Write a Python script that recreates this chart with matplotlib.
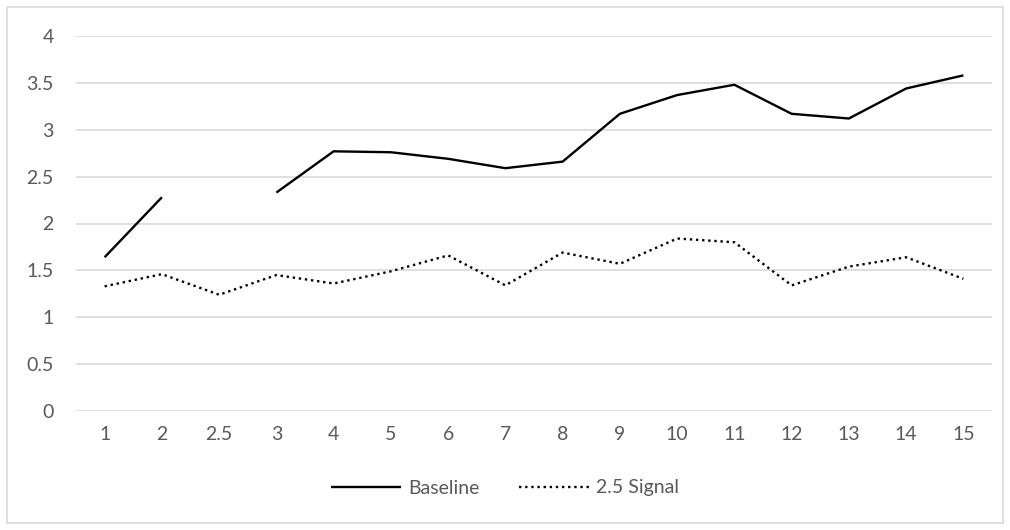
import matplotlib.pyplot as plt
import matplotlib.patches as mpatches
import numpy as np

categories = ["1", "2", "2.5", "3", "4", "5", "6", "7", "8", "9", "10", "11", "12", "13", "14", "15"]
baseline = [1.64, 2.28, np.nan, 2.33, 2.77, 2.76, 2.69, 2.59, 2.66, 3.17, 3.37, 3.48, 3.17, 3.12, 3.44, 3.58]
signal = [1.33, 1.46, 1.24, 1.45, 1.36, 1.49, 1.66, 1.34, 1.69, 1.57, 1.84, 1.80, 1.34, 1.54, 1.64, 1.41]

plt.rcParams['font.family'] = ['Lato', 'DejaVu Sans']
text_color = '#595959'

fig = plt.figure(figsize=(10.1, 5.3), dpi=100)
ax = fig.add_axes([76 / 1010, 1 - 411 / 530, 916 / 1010, 375 / 530])

x = np.arange(len(categories))
ax.plot(x, baseline, color='black', lw=1.7, label='Baseline', solid_capstyle='butt')
ax.plot(x, signal, color='black', lw=1.7, linestyle=(0, (1, 1.6)), label='2.5 Signal')

ax.set_xlim(-0.5, len(categories) - 0.5)
ax.set_ylim(0, 4)
ax.set_yticks(np.arange(0, 4.01, 0.5))
ax.set_yticklabels(['0', '0.5', '1', '1.5', '2', '2.5', '3', '3.5', '4'])
ax.set_xticks(x)
ax.set_xticklabels(categories)
ax.tick_params(axis='both', length=0, labelsize=14, labelcolor=text_color)
ax.tick_params(axis='y', pad=16)
ax.tick_params(axis='x', pad=11)
ax.grid(axis='y', color='#d9d9d9', lw=1.2)
ax.set_axisbelow(True)
for s in ax.spines.values():
    s.set_visible(False)

leg = fig.legend(loc='center', bbox_to_anchor=(0.5, 1 - 488 / 530), ncol=2, frameon=False,
                 fontsize=14, handlelength=3.6, columnspacing=2.0, handletextpad=0.4)
for t in leg.get_texts():
    t.set_color(text_color)

# outer chart border
fig.patches.append(mpatches.Rectangle((7 / 1010, 7 / 530), 996 / 1010, 516 / 530,
                                      transform=fig.transFigure, fill=False,
                                      edgecolor='#d9d9d9', lw=1.2))

fig.savefig('out.png', dpi=100)
